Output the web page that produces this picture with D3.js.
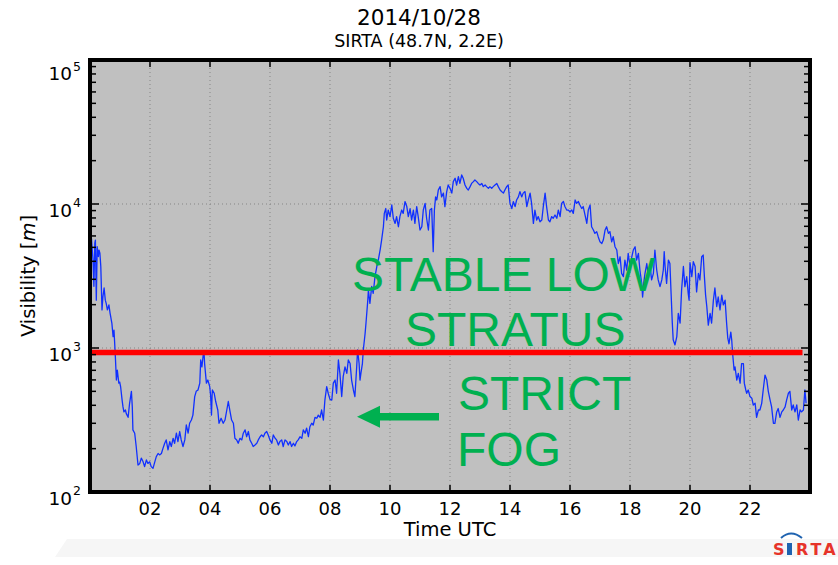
<!DOCTYPE html>
<html>
<head>
<meta charset="utf-8">
<script src="https://cdn.jsdelivr.net/npm/d3@7"></script>
<style>
  body { margin: 0; background: #ffffff; }
  svg { display: block; }
</style>
</head>
<body>
<svg id="my-svg"></svg>
<script>
/*
visibility at SIRTA on 2014/10/28, log y axis, hours UTC on x
*/

// time of each sample, hours UTC
const hours = [
  0.05,0.10,0.13,0.16,0.18,0.21,0.24,0.28,0.30,0.33,0.36,0.40,0.43,0.47,0.51,0.54,0.58,0.63,0.67,0.69,
  0.71,0.73,0.77,0.80,0.84,0.88,0.91,0.96,0.99,1.02,1.07,1.10,1.13,1.18,1.21,1.27,1.32,1.38,1.41,1.43,
  1.49,1.54,1.60,1.66,1.71,1.77,1.82,1.88,1.93,1.99,2.04,2.10,2.16,2.21,2.27,2.32,2.38,2.43,2.49,2.54,
  2.60,2.66,2.71,2.77,2.82,2.88,2.93,2.99,3.04,3.10,3.16,3.21,3.27,3.32,3.38,3.43,3.49,3.54,3.60,3.66,
  3.69,3.73,3.78,3.80,3.82,3.88,3.93,3.99,4.02,4.05,4.07,4.08,4.14,4.19,4.26,4.30,4.37,4.44,4.50,4.56,
  4.61,4.67,4.72,4.78,4.83,4.89,4.94,5.00,5.06,5.11,5.17,5.22,5.28,5.33,5.39,5.44,5.50,5.56,5.61,5.67,
  5.72,5.78,5.83,5.89,5.94,6.00,6.06,6.11,6.17,6.22,6.28,6.33,6.39,6.44,6.50,6.56,6.61,6.67,6.72,6.78,
  6.83,6.89,6.94,7.00,7.06,7.11,7.17,7.22,7.28,7.33,7.39,7.44,7.50,7.56,7.61,7.67,7.72,7.78,7.83,7.89,
  7.94,8.00,8.06,8.11,8.17,8.22,8.28,8.33,8.39,8.44,8.50,8.56,8.61,8.67,8.72,8.78,8.83,8.89,8.92,8.97,
  9.00,9.03,9.08,9.11,9.17,9.20,9.26,9.28,9.33,9.39,9.44,9.50,9.56,9.61,9.67,9.72,9.78,9.81,9.86,9.89,
  9.94,10.00,10.06,10.11,10.17,10.22,10.28,10.33,10.39,10.44,10.50,10.56,10.61,10.67,10.72,10.78,10.83,10.89,10.94,11.00,
  11.06,11.11,11.17,11.22,11.28,11.33,11.39,11.44,11.48,11.52,11.56,11.61,11.67,11.72,11.78,11.83,11.89,11.94,12.00,12.06,
  12.11,12.17,12.22,12.28,12.33,12.39,12.44,12.50,12.56,12.61,12.67,12.72,12.78,12.83,12.89,12.94,13.00,13.06,13.11,13.17,
  13.22,13.28,13.33,13.39,13.44,13.50,13.56,13.61,13.67,13.72,13.78,13.83,13.89,13.94,14.00,14.06,14.11,14.17,14.22,14.28,
  14.33,14.39,14.44,14.50,14.56,14.61,14.67,14.72,14.78,14.83,14.89,14.94,15.00,15.06,15.11,15.17,15.22,15.28,15.33,15.39,
  15.44,15.50,15.56,15.61,15.67,15.72,15.78,15.83,15.89,15.94,16.00,16.06,16.11,16.17,16.22,16.28,16.33,16.39,16.44,16.50,
  16.56,16.61,16.67,16.72,16.78,16.83,16.89,16.94,17.00,17.06,17.11,17.17,17.22,17.28,17.33,17.39,17.44,17.50,17.56,17.61,
  17.67,17.72,17.78,17.83,17.89,17.94,18.00,18.06,18.11,18.17,18.22,18.28,18.33,18.39,18.42,18.47,18.50,18.56,18.61,18.67,
  18.72,18.78,18.83,18.89,18.94,19.00,19.06,19.11,19.14,19.17,19.22,19.28,19.33,19.37,19.41,19.44,19.50,19.56,19.61,19.67,
  19.72,19.78,19.83,19.89,19.94,19.97,20.00,20.06,20.11,20.17,20.22,20.28,20.33,20.39,20.44,20.48,20.52,20.56,20.61,20.67,
  20.72,20.78,20.83,20.89,20.94,21.00,21.06,21.11,21.17,21.22,21.26,21.30,21.36,21.39,21.42,21.47,21.50,21.56,21.61,21.67,
  21.72,21.78,21.81,21.86,21.89,21.94,22.00,22.06,22.11,22.17,22.22,22.28,22.33,22.39,22.44,22.50,22.56,22.61,22.67,22.72,
  22.78,22.83,22.89,22.94,23.00,23.06,23.11,23.17,23.22,23.28,23.33,23.39,23.44,23.50,23.56,23.61,23.67,23.72,23.78,23.83,
  23.87
];

// visibility in metres, same order as hours
const visibility = [
  5750,4080,2680,5340,5620,2150,5050,4320,4790,4550,3680,1840,2260,2610,2150,2040,1840,1990,1740,1650,
  1560,1480,1200,1330,920,599,703,570,580,540,435,390,360,371,350,330,413,500,390,270,
  256,207,154,158,172,162,150,167,158,162,150,146,162,176,185,181,185,200,218,230,
  196,224,207,236,218,256,224,263,230,207,230,292,256,300,316,342,460,500,511,570,
  826,740,920,940,780,570,599,540,470,342,470,511,485,425,371,300,325,300,316,371,
  425,360,316,300,236,230,218,236,230,256,270,242,263,230,218,207,212,218,230,242,
  249,242,256,263,249,230,218,249,236,230,212,224,230,207,230,224,212,224,207,218,
  209,224,230,242,236,270,256,278,242,284,300,292,330,325,342,330,371,316,435,540,
  485,440,435,570,599,485,826,666,460,633,740,666,826,780,599,511,460,740,969,780,
  599,666,780,969,1260,1490,2150,2530,2040,2680,2400,3130,3680,4080,4790,5620,6950,8600,9300,7740,
  9080,8180,9840,7960,7330,8180,6950,8180,9080,8600,10400,9600,8180,9300,7740,9080,7330,9600,8180,6600,
  6950,9080,10100,7960,6600,9080,9300,4670,9080,11200,10660,12500,13200,11200,11900,9600,12200,13550,12850,11900,
  14300,15100,13550,15500,13900,15900,15100,13550,12850,12500,13200,13900,14300,14680,14300,13900,13550,13900,13200,13550,
  13200,12850,13200,12850,13200,13550,13900,13200,12500,12200,11900,12500,13200,13550,10100,9300,10400,9600,10660,11200,
  12200,11200,11900,12200,9600,10660,11900,10100,7330,9080,7740,8180,7520,7740,9600,11900,9600,7740,7520,8180,
  7960,8390,7960,9080,8180,10100,10400,9600,9080,9080,8830,9080,8600,10660,10100,10400,9840,9300,9600,8390,
  7330,9080,9840,6950,6600,6250,6430,5930,5460,5320,5620,6600,6950,6250,6430,5460,5930,5050,4790,3860,
  4300,3300,3130,4080,3480,4540,3680,4300,4790,5050,4080,4540,3480,2810,2260,2970,3300,3860,3130,3680,
  2970,3300,4790,3480,2970,2670,2970,3480,4670,3680,2810,4080,3860,2390,1490,1140,1050,1200,1740,1490,
  2530,3680,2670,3130,2390,2150,3920,3130,3980,3680,2450,3300,2970,4300,4420,3130,2330,1940,1440,1740,
  1490,2150,2610,1940,2260,1840,2330,1990,2150,1490,1170,1070,1290,1140,920,703,740,599,666,570,
  780,780,570,511,485,511,460,448,402,413,330,371,371,413,511,649,599,500,435,390,
  300,300,360,380,330,360,371,390,435,485,500,371,402,360,402,316,371,360,371,511,
  413
];

const xTickHours = [2, 4, 6, 8, 10, 12, 14, 16, 18, 20, 22];
const yDecades = [100, 1000, 10000, 100000];
const yMinorMult = [2, 3, 4, 5, 6, 7, 8, 9];

// red threshold line drawn on the slide
const thresholdVis = [930];
const thresholdHours = [0.05, 23.75];

const titleLines = ['2014/10/28', 'SIRTA (48.7N, 2.2E)'];
const stratusLines = ['STABLE LOW', 'STRATUS'];
const fogLines = ['STRICT', 'FOG'];

let iW = 838, iH = 565;
let pLeft = 90, pRight = 810, pTop = 60, pBottom = 492;
let sFont = "'DejaVu Sans', sans-serif";
let sGreen = '#00b050';

let oSvg = d3.select('#my-svg')
      .attr('width', iW)
      .attr('height', iH);

let x = d3.scaleLinear().domain([0, 24]).range([pLeft, pRight]);
let y = d3.scaleLog().domain([100, 100000]).range([pBottom, pTop]);

function drawChart(){

    // faint footer band and logo
    oSvg.append('path')
        .attr('d', 'M55,557 L67,539 L838,539 L838,557 Z')
        .attr('fill', '#f6f6f6');

    let oLogo = oSvg.append('g')
        .attr('font-family', "'DejaVu Sans', sans-serif")
        .attr('font-weight', 'bold')
        .attr('font-size', 16);
    oLogo.append('text').attr('x', 773).attr('y', 555).attr('fill', '#e63329').text('S');
    oLogo.append('rect').attr('x', 787).attr('y', 543).attr('width', 5).attr('height', 12).attr('fill', '#1f63b0');
    oLogo.append('path')
        .attr('d', 'M781,538 Q791,529 802,538')
        .attr('fill', 'none')
        .attr('stroke', '#1f63b0')
        .attr('stroke-width', 2);
    oLogo.append('text').attr('x', 796).attr('y', 555).attr('fill', '#e63329')
        .attr('letter-spacing', 3).text('RTA');

    // titles
    oSvg.append('text')
        .attr('x', 419).attr('y', 25)
        .attr('text-anchor', 'middle')
        .attr('font-family', sFont).attr('font-size', 21.5)
        .text(titleLines[0]);
    oSvg.append('text')
        .attr('x', 419).attr('y', 47)
        .attr('text-anchor', 'middle')
        .attr('font-family', sFont).attr('font-size', 17.5)
        .text(titleLines[1]);

    // plot background
    oSvg.append('rect')
        .attr('x', pLeft).attr('y', pTop)
        .attr('width', pRight - pLeft).attr('height', pBottom - pTop)
        .attr('fill', '#c0c0c0');

    // dotted grid
    oSvg.selectAll('line.vgrid')
        .data(xTickHours)
        .enter().append('line')
            .attr('class', 'vgrid')
            .attr('x1', d => x(d)).attr('x2', d => x(d))
            .attr('y1', pTop).attr('y2', pBottom)
            .attr('stroke', '#858585')
            .attr('stroke-dasharray', '1,3');
    oSvg.selectAll('line.hgrid')
        .data(yDecades.slice(1, 3))
        .enter().append('line')
            .attr('class', 'hgrid')
            .attr('x1', pLeft).attr('x2', pRight)
            .attr('y1', d => y(d)).attr('y2', d => y(d))
            .attr('stroke', '#858585')
            .attr('stroke-dasharray', '1,3');

    // blue series
    oSvg.append('clipPath').attr('id', 'plotClip')
        .append('rect')
        .attr('x', pLeft).attr('y', pTop)
        .attr('width', pRight - pLeft).attr('height', pBottom - pTop);

    let oPoints = hours.map((h, i) => ({h: h, v: visibility[i]}));
    let oLine = d3.line().x(d => x(d.h)).y(d => y(d.v));

    oSvg.append('path')
        .datum(oPoints)
        .attr('clip-path', 'url(#plotClip)')
        .attr('d', oLine)
        .attr('fill', 'none')
        .attr('stroke', '#1030ff')
        .attr('stroke-width', 1.3)
        .attr('stroke-linejoin', 'round');

    // red threshold
    oSvg.selectAll('line.limit')
        .data(thresholdVis)
        .enter().append('line')
            .attr('class', 'limit')
            .attr('x1', x(thresholdHours[0])).attr('x2', x(thresholdHours[1]))
            .attr('y1', d => y(d)).attr('y2', d => y(d))
            .attr('stroke', '#ff0000')
            .attr('stroke-width', 5.5);

    // ticks, pointing inwards
    oSvg.selectAll('line.xtickB')
        .data(xTickHours)
        .enter().append('line')
            .attr('class', 'xtickB')
            .attr('x1', d => x(d)).attr('x2', d => x(d))
            .attr('y1', pBottom).attr('y2', pBottom - 7)
            .attr('stroke', '#000').attr('stroke-width', 1.5);
    oSvg.selectAll('line.xtickT')
        .data(xTickHours)
        .enter().append('line')
            .attr('class', 'xtickT')
            .attr('x1', d => x(d)).attr('x2', d => x(d))
            .attr('y1', pTop).attr('y2', pTop + 7)
            .attr('stroke', '#000').attr('stroke-width', 1.5);

    let oMinor = [];
    yDecades.slice(0, 3).forEach(d => yMinorMult.forEach(m => oMinor.push(d * m)));

    [pLeft, pRight].forEach((xs, k) => {
        let iDir = k === 0 ? 1 : -1;
        oSvg.selectAll('line.ymin' + k)
            .data(oMinor)
            .enter().append('line')
                .attr('class', 'ymin' + k)
                .attr('x1', xs).attr('x2', xs + iDir * 6)
                .attr('y1', d => y(d)).attr('y2', d => y(d))
                .attr('stroke', '#000').attr('stroke-width', 1.5);
        oSvg.selectAll('line.ymaj' + k)
            .data(yDecades)
            .enter().append('line')
                .attr('class', 'ymaj' + k)
                .attr('x1', xs).attr('x2', xs + iDir * 9)
                .attr('y1', d => y(d)).attr('y2', d => y(d))
                .attr('stroke', '#000').attr('stroke-width', 1.5);
    });

    // frame
    oSvg.append('rect')
        .attr('x', pLeft).attr('y', pTop)
        .attr('width', pRight - pLeft).attr('height', pBottom - pTop)
        .attr('fill', 'none')
        .attr('stroke', '#000')
        .attr('stroke-width', 4);

    // x tick labels
    oSvg.selectAll('text.xlab')
        .data(xTickHours)
        .enter().append('text')
            .attr('class', 'xlab')
            .attr('x', d => x(d)).attr('y', 515)
            .attr('text-anchor', 'middle')
            .attr('font-family', sFont).attr('font-size', 18)
            .text(d => d3.format('02')(d));

    // y tick labels, 10 with a superscript exponent
    oSvg.selectAll('text.ylab')
        .data(yDecades)
        .enter().append('text')
            .attr('class', 'ylab')
            .attr('x', 72)
            .attr('y', (d, i) => y(d) + (i === yDecades.length - 1 ? 20 : 12.5))
            .attr('text-anchor', 'end')
            .attr('font-family', sFont).attr('font-size', 18.5)
            .text('10');
    oSvg.selectAll('text.yexp')
        .data(yDecades)
        .enter().append('text')
            .attr('class', 'yexp')
            .attr('x', 73)
            .attr('y', (d, i) => y(d) + (i === yDecades.length - 1 ? 11 : 3))
            .attr('font-family', sFont).attr('font-size', 12.5)
            .text(d => Math.round(Math.log10(d)));

    // axis titles
    oSvg.append('text')
        .attr('x', (pLeft + pRight) / 2).attr('y', 536)
        .attr('text-anchor', 'middle')
        .attr('font-family', sFont).attr('font-size', 19.5)
        .text('Time UTC');

    let oYLab = oSvg.append('text')
        .attr('transform', 'translate(35,' + ((pTop + pBottom) / 2) + ') rotate(-90)')
        .attr('text-anchor', 'middle')
        .attr('font-family', sFont).attr('font-size', 19.5);
    oYLab.append('tspan').text('Visibility [');
    oYLab.append('tspan').attr('font-style', 'italic').text('m');
    oYLab.append('tspan').text(']');

    // slide annotations
    let sAnn = "'Liberation Sans', Arial, sans-serif";
    oSvg.append('text').attr('x', 352).attr('y', 291)
        .attr('font-family', sAnn).attr('font-size', 48).attr('fill', sGreen)
        .text(stratusLines[0]);
    oSvg.append('text').attr('x', 405).attr('y', 346)
        .attr('font-family', sAnn).attr('font-size', 48).attr('fill', sGreen)
        .text(stratusLines[1]);
    oSvg.append('text').attr('x', 458).attr('y', 410)
        .attr('font-family', sAnn).attr('font-size', 48).attr('fill', sGreen)
        .text(fogLines[0]);
    oSvg.append('text').attr('x', 457).attr('y', 466)
        .attr('font-family', sAnn).attr('font-size', 48).attr('fill', sGreen)
        .text(fogLines[1]);

    oSvg.append('path')
        .attr('d', 'M357,416.8 L380,405.8 L380,413 L439,413 L439,420.6 L380,420.6 L380,427.8 Z')
        .attr('fill', sGreen);
}

drawChart();
</script>
</body>
</html>
